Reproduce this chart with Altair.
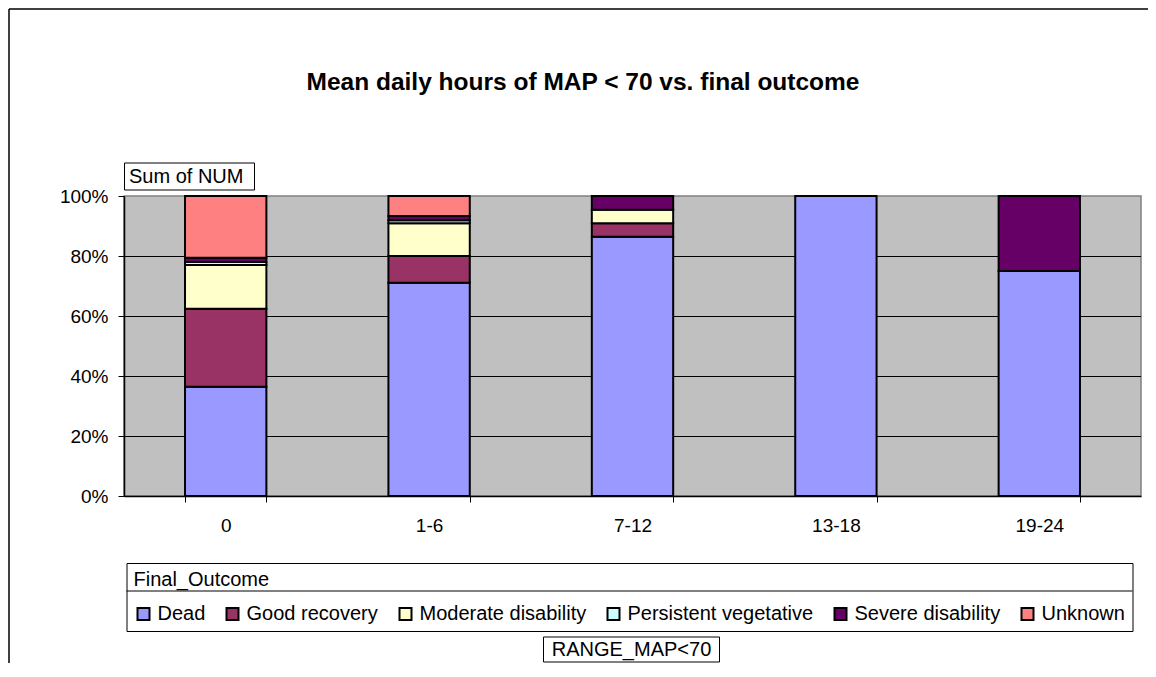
import altair as alt
import pandas as pd

# ---------------- data ----------------
categories = ["0", "1-6", "7-12", "13-18", "19-24"]
outcomes = ["Dead", "Good recovery", "Moderate disability",
            "Persistent vegetative", "Severe disability", "Unknown"]
colors = ["#9999FF", "#993366", "#FFFFCC", "#CCFFFF", "#660066", "#FF8080"]

dead = [36.4, 71.1, 86.4, 100.0, 75.0]
good_recovery = [26.0, 8.9, 4.5, 0.0, 0.0]
moderate_disability = [14.6, 10.9, 4.5, 0.0, 0.0]
persistent_vegetative = [1.0, 1.0, 0.0, 0.0, 0.0]
severe_disability = [1.4, 1.4, 4.6, 0.0, 25.0]
unknown = [20.6, 6.7, 0.0, 0.0, 0.0]

y_tick_values = [0, 0.2, 0.4, 0.6, 0.8, 1.0]
grid_values = [0.2, 0.4, 0.6, 0.8]

title_text = "Mean daily hours of MAP < 70 vs. final outcome"
y_box_text = "Sum of NUM"
x_box_text = "RANGE_MAP<70"
legend_title = "Final_Outcome"

series = [dead, good_recovery, moderate_disability,
          persistent_vegetative, severe_disability, unknown]

rows = []
for oi, (name, vals) in enumerate(zip(outcomes, series)):
    for ci, cat in enumerate(categories):
        if vals[ci] > 0:
            rows.append({"range": cat, "outcome": name, "idx": oi, "value": vals[ci]})
df = pd.DataFrame(rows)

FONT = "Liberation Sans"

y_axis = alt.Axis(
    title="", values=y_tick_values, format=".0%", grid=False,
    labelFont=FONT, labelFontSize=19, labelColor="black", labelPadding=10,
    tickColor="black", tickSize=6, domainColor="black", domainWidth=1.5,
)

grid = alt.Chart(pd.DataFrame({"g": grid_values})).mark_rule(
    color="black", strokeWidth=1, yOffset=0.5
).encode(
    y=alt.Y("g:Q", scale=alt.Scale(domain=[0, 1], nice=False), axis=y_axis)
)

bars = alt.Chart(df).mark_bar(stroke="black", strokeWidth=2, opacity=1).encode(
    x=alt.X(
        "range:N", sort=categories,
        scale=alt.Scale(paddingInner=0.6, paddingOuter=0.3),
        axis=alt.Axis(
            title="", labelAngle=0, labelFont=FONT, labelFontSize=19,
            labelColor="black", labelPadding=14, tickBand="extent",
            tickSize=6, tickColor="black", domainColor="black",
            domainWidth=1.5, grid=False,
        ),
    ),
    y=alt.Y("value:Q", stack="normalize",
            scale=alt.Scale(domain=[0, 1], nice=False), axis=y_axis),
    color=alt.Color(
        "outcome:N",
        scale=alt.Scale(domain=outcomes, range=colors),
        legend=alt.Legend(
            orient="none", legendX=2.5, legendY=367,
            direction="horizontal", columns=6,
            title=legend_title, titleFont=FONT, titleFontSize=20,
            titleFontWeight="normal", titleColor="black", titlePadding=14,
            labelFont=FONT, labelFontSize=20, labelColor="black",
            labelLimit=600, labelOffset=4,
            symbolType="square", symbolSize=144, symbolStrokeColor="black",
            symbolStrokeWidth=2, symbolOpacity=1,
            strokeColor="black", padding=7, columnPadding=17, rowPadding=0,
        ),
    ),
    order=alt.Order("idx:Q", sort="ascending"),
)

one = pd.DataFrame({"k": [0]})

# outer chart border (top and left)
border_top = alt.Chart(one).mark_rule(color="black", strokeWidth=1.5).encode(
    x=alt.value(-115), x2=alt.value(1030), y=alt.value(-187))
border_left = alt.Chart(one).mark_rule(color="black", strokeWidth=1.5).encode(
    x=alt.value(-115), y=alt.value(-187), y2=alt.value(470))

title = alt.Chart(one).mark_text(
    text=title_text, font=FONT, fontSize=24.5, fontWeight="bold",
    color="black", align="center", baseline="middle",
).encode(x=alt.value(459), y=alt.value(-113))

ybox = alt.Chart(one).mark_rect(fill="white", stroke="black", strokeWidth=1).encode(
    x=alt.value(0.5), x2=alt.value(130.5), y=alt.value(-33), y2=alt.value(-6))
ytext = alt.Chart(one).mark_text(
    text=y_box_text, font=FONT, fontSize=20, color="black",
    align="left", baseline="middle",
).encode(x=alt.value(5), y=alt.value(-19))

xbox = alt.Chart(one).mark_rect(fill="white", stroke="black", strokeWidth=1).encode(
    x=alt.value(419.5), x2=alt.value(595.5), y=alt.value(441), y2=alt.value(466))
xtext = alt.Chart(one).mark_text(
    text=x_box_text, font=FONT, fontSize=20, color="black",
    align="center", baseline="middle",
).encode(x=alt.value(507.5), y=alt.value(454))

sep = alt.Chart(one).mark_rule(color="black", strokeWidth=1).encode(
    x=alt.value(2.5), x2=alt.value(1008.5), y=alt.value(395))

chart = alt.layer(
    grid, bars, border_top, border_left, title, ybox, ytext, xbox, xtext, sep
).properties(
    width=1017, height=300,
    autosize=alt.AutoSizeParams(type="none"),
    padding={"left": 116, "top": 188, "right": 7, "bottom": 167},
    background="white",
).configure_view(
    fill="#C0C0C0", stroke="#808080", strokeWidth=1.5
)

chart.save("out.html", embed_options={"renderer": "svg", "actions": False})
